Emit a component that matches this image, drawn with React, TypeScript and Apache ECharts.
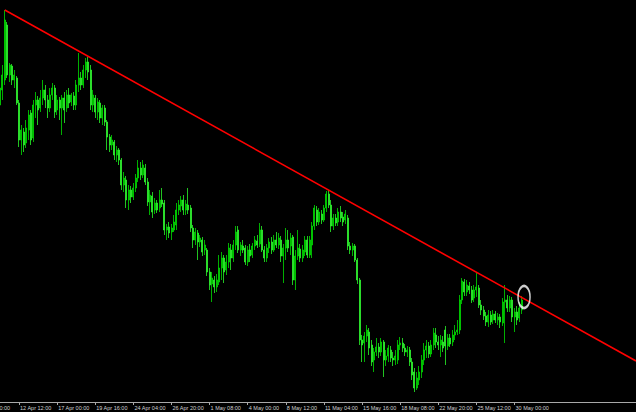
import { useEffect, useRef } from "react";
import * as echarts from "echarts";

// bar index of each time tick (H4 bars, 16 bars apart)
const tickIndex = [8, 24, 40, 56, 72, 88, 104, 120, 136, 152, 168, 184, 200, 216];
const tickLabels = [
  "12 Apr 12:00", "17 Apr 00:00", "19 Apr 16:00", "24 Apr 04:00", "26 Apr 20:00",
  "1 May 08:00", "4 May 00:00", "8 May 12:00", "11 May 04:00", "15 May 16:00",
  "18 May 08:00", "22 May 20:00", "25 May 12:00", "30 May 00:00",
];
const leadLabel = "9 Apr 20:00";

// [open, close, low, high] in price points
const candles: number[][] = [
  [295, 312, 280, 320], [310, 325, 300, 335], [320, 380, 315, 390], [375, 325, 322, 378],
  [325, 335, 318, 337], [334, 320, 315, 336], [320, 325, 312, 330], [322, 297, 295, 324],
  [297, 260, 253, 300], [260, 270, 245, 275], [268, 255, 248, 272], [257, 272, 252, 280],
  [270, 285, 260, 290], [287, 260, 255, 290], [262, 295, 258, 300], [295, 300, 282, 308],
  [300, 290, 275, 304], [292, 302, 288, 310], [302, 310, 295, 320], [310, 300, 292, 315],
  [300, 292, 282, 305], [292, 305, 288, 312], [305, 312, 300, 317], [312, 288, 282, 315],
  [290, 300, 285, 305], [300, 292, 280, 303], [292, 302, 265, 305], [302, 290, 277, 308],
  [292, 305, 288, 310], [305, 297, 292, 312], [298, 305, 294, 307], [304, 295, 290, 308],
  [295, 315, 290, 320], [315, 322, 308, 347], [322, 315, 310, 328], [315, 330, 312, 335],
  [330, 338, 322, 342], [338, 328, 320, 343], [330, 295, 290, 335], [295, 305, 288, 310],
  [302, 288, 282, 305], [288, 298, 280, 302], [297, 282, 277, 300], [282, 292, 275, 295],
  [292, 278, 274, 295], [278, 263, 250, 280], [263, 255, 248, 266], [255, 260, 250, 265],
  [258, 245, 240, 260], [245, 250, 238, 254], [250, 240, 235, 252], [240, 215, 210, 242],
  [215, 222, 208, 228], [220, 200, 192, 224], [200, 210, 190, 215], [210, 203, 197, 214],
  [203, 212, 200, 217], [212, 222, 208, 226], [222, 232, 218, 240], [232, 225, 220, 238],
  [225, 235, 222, 240], [232, 218, 215, 236], [218, 198, 194, 222], [198, 205, 185, 210],
  [204, 188, 182, 208], [190, 197, 186, 202], [197, 190, 187, 200], [192, 200, 188, 210],
  [200, 196, 193, 212], [197, 170, 165, 200], [170, 173, 160, 176], [173, 167, 162, 178],
  [168, 172, 160, 176], [170, 178, 168, 185], [175, 190, 170, 197], [190, 195, 185, 200],
  [194, 200, 188, 204], [200, 190, 185, 205], [190, 196, 185, 200], [195, 190, 186, 212],
  [192, 172, 168, 195], [172, 160, 152, 175], [160, 168, 155, 172], [167, 158, 140, 170],
  [158, 162, 153, 165], [160, 148, 144, 163], [150, 155, 145, 160], [150, 128, 124, 152],
  [128, 115, 110, 132], [116, 122, 98, 128], [120, 113, 107, 124], [113, 120, 108, 126],
  [118, 132, 115, 145], [132, 142, 120, 148], [142, 128, 117, 145], [130, 138, 125, 145],
  [138, 152, 132, 157], [150, 142, 130, 156], [142, 155, 138, 160], [155, 168, 150, 174],
  [170, 150, 147, 174], [150, 155, 144, 158], [154, 150, 147, 160], [152, 138, 135, 155],
  [138, 150, 134, 154], [150, 144, 138, 156], [145, 154, 142, 157], [154, 160, 150, 164],
  [159, 155, 152, 165], [156, 170, 153, 177], [170, 150, 148, 174], [150, 142, 138, 154],
  [142, 152, 138, 156], [152, 158, 147, 162], [158, 150, 146, 163], [150, 160, 148, 165],
  [160, 155, 152, 168], [155, 162, 151, 167], [160, 144, 138, 164], [144, 152, 117, 156],
  [152, 160, 140, 172], [160, 152, 148, 170], [154, 162, 145, 167], [163, 120, 115, 165],
  [120, 144, 110, 150], [144, 152, 140, 170], [151, 142, 138, 156], [142, 150, 138, 155],
  [148, 160, 144, 164], [160, 145, 142, 164], [145, 160, 142, 164], [155, 174, 142, 178],
  [174, 192, 170, 195], [190, 178, 174, 194], [178, 188, 175, 192], [186, 180, 176, 190],
  [180, 192, 178, 195], [192, 206, 188, 209], [206, 195, 192, 210], [195, 174, 168, 200],
  [174, 182, 170, 186], [182, 177, 174, 186], [178, 188, 174, 192], [188, 182, 178, 194],
  [183, 178, 174, 188], [180, 186, 176, 190], [182, 154, 150, 185], [154, 150, 146, 158],
  [150, 154, 144, 157], [154, 140, 138, 156], [140, 120, 116, 142], [120, 60, 55, 122],
  [60, 55, 38, 65], [57, 64, 38, 68], [64, 70, 58, 75], [68, 52, 45, 72],
  [55, 38, 34, 60], [40, 48, 28, 52], [48, 53, 44, 62], [53, 48, 42, 57],
  [48, 58, 44, 62], [58, 40, 23, 60], [40, 44, 34, 50], [44, 52, 38, 55],
  [50, 42, 38, 54], [42, 40, 34, 48], [40, 44, 35, 50], [40, 55, 36, 60],
  [55, 57, 50, 63], [57, 52, 48, 62], [52, 48, 44, 56], [48, 50, 43, 54],
  [50, 38, 34, 53], [38, 25, 20, 42], [28, 12, 8, 32], [12, 22, 10, 28],
  [20, 28, 15, 34], [28, 40, 22, 45], [40, 50, 35, 57], [50, 54, 42, 60],
  [54, 46, 42, 58], [46, 55, 43, 60], [55, 67, 50, 72], [65, 58, 52, 72],
  [58, 55, 50, 64], [55, 60, 43, 65], [58, 52, 48, 64], [70, 54, 35, 74],
  [54, 62, 50, 66], [62, 56, 53, 66], [58, 65, 54, 70], [65, 68, 60, 75],
  [68, 70, 65, 80], [70, 100, 66, 105], [100, 119, 96, 122], [118, 108, 104, 121],
  [108, 115, 104, 120], [114, 110, 106, 118], [110, 100, 97, 114], [102, 110, 98, 115],
  [110, 113, 103, 127], [112, 95, 92, 115], [95, 90, 85, 100], [90, 84, 80, 94],
  [84, 78, 74, 88], [78, 85, 73, 90], [85, 78, 75, 89], [80, 86, 76, 90],
  [86, 80, 77, 89], [80, 83, 75, 87], [83, 78, 72, 86], [77, 98, 74, 102],
  [98, 100, 57, 115], [100, 92, 88, 105], [92, 100, 88, 104], [100, 83, 78, 103],
  [83, 88, 68, 92], [88, 80, 75, 94], [82, 92, 78, 98], [90, 100, 86, 104],
];

// trendline from first high to right edge [barIndex, price]
const trendLine = [[2, 390], [267, 39]];
// highlighted breakout point [barIndex, price]
const marker = [220, 103];

export default function App() {
  const ref = useRef<HTMLDivElement>(null);
  useEffect(() => {
    if (!ref.current) return;
    const chart = echarts.init(ref.current, undefined, { renderer: "svg" });
    const labelFont = "Liberation Sans, Arial, sans-serif";
    chart.setOption({
      animation: false,
      backgroundColor: "#000000",
      grid: { left: 0, right: 0, top: 0, bottom: 10, containLabel: false },
      xAxis: {
        type: "value",
        min: 0,
        max: 267,
        splitLine: { show: false },
        axisLine: { show: true, onZero: false, lineStyle: { color: "#a8a8a8", width: 1 } },
        axisTick: {
          show: true,
          customValues: tickIndex,
          length: 3,
          lineStyle: { color: "#a8a8a8", width: 1 },
        },
        axisLabel: {
          show: true,
          customValues: tickIndex,
          formatter: (v: number) => {
            const k = tickIndex.indexOf(Math.round(v));
            return k >= 0 ? tickLabels[k] : "";
          },
          color: "#d0d0d0",
          fontSize: 5.5,
          fontFamily: labelFont,
          align: "left",
          margin: 3,
          padding: [0, 0, 0, 1],
        },
      },
      yAxis: { type: "value", min: -2, max: 400, show: false, splitLine: { show: false } },
      series: [
        {
          type: "candlestick",
          data: candles.map((c, i) => [i, c[0], c[1], c[2], c[3]]),
          encode: { x: 0, y: [1, 2, 3, 4] },
          barWidth: 1.5,
          itemStyle: {
            color: "#00b400",
            borderColor: "#00dc00",
            color0: "#66ff66",
            borderColor0: "#2af52a",
            borderWidth: 0.8,
          },
          markLine: {
            silent: true,
            symbol: ["none", "none"],
            label: { show: false },
            lineStyle: { color: "#ff0000", width: 1.6, type: "solid" },
            data: [[{ coord: trendLine[0] }, { coord: trendLine[1] }]],
          },
        },
        {
          type: "scatter",
          data: [marker],
          symbol: "circle",
          symbolSize: [12, 22],
          silent: true,
          z: 10,
          itemStyle: { color: "rgba(0,0,0,0)", borderColor: "#ffffff", borderWidth: 2 },
        },
      ],
      graphic: [
        {
          type: "text",
          x: -18,
          y: 405,
          silent: true,
          style: { text: leadLabel, fill: "#d0d0d0", fontSize: 5.5, fontFamily: labelFont },
        },
      ],
    });
    return () => chart.dispose();
  }, []);
  return (
    <div
      ref={ref}
      style={{ position: "absolute", left: 0, top: 0, width: 636, height: 412, background: "#000" }}
    />
  );
}
